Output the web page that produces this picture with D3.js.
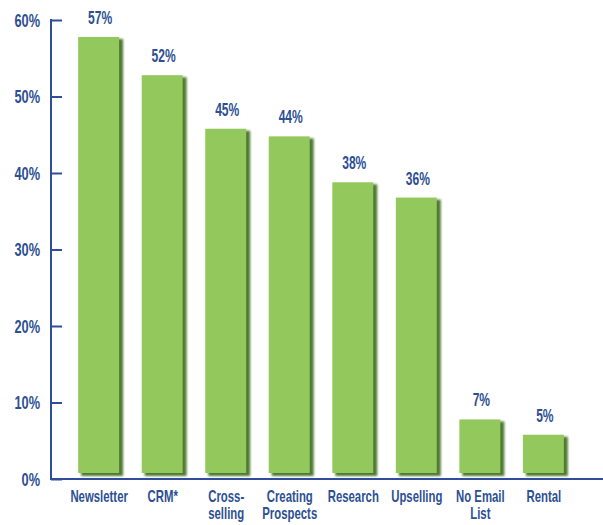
<!DOCTYPE html>
<html>
<head>
<meta charset="utf-8">
<script src="https://cdn.jsdelivr.net/npm/d3@7"></script>
<style>
  html, body { margin: 0; padding: 0; background: #fff; }
  svg { display: block; }
  .lbl { font-family: "Liberation Sans", Arial, sans-serif; font-weight: bold; fill: #2d4f93; }
</style>
</head>
<body>
<svg id="chart" width="603" height="525"></svg>
<script>
// Uses of the email list, share of respondents (%)
const categories = [["Newsletter"], ["CRM*"], ["Cross-", "selling"], ["Creating", "Prospects"], ["Research"], ["Upselling"], ["No Email", "List"], ["Rental"]];
const values = [57, 52, 45, 44, 38, 36, 7, 5];
const yTicks = [0, 10, 20, 30, 40, 50, 60];

const svg = d3.select("#chart");
const W = 603, H = 525;
const margin = { left: 51, right: 0, top: 20, bottom: 46 };
const axisBlue = "#2f4d98";
const squeeze = 0.69; // condensed look for the labels

const x = d3.scaleBand()
  .domain(d3.range(values.length))
  .range([68, 575])
  .paddingInner(0.34)
  .paddingOuter(0.16);

const y = d3.scaleLinear().domain([0, 60]).range([H - margin.bottom, margin.top]);

// soft shadow filter for bars
const defs = svg.append("defs");
defs.append("filter").attr("id", "soft").attr("x", "-20%").attr("y", "-20%").attr("width", "140%").attr("height", "140%")
  .append("feGaussianBlur").attr("stdDeviation", 0.8);
defs.append("filter").attr("id", "soft2").attr("x", "-10%").attr("y", "-10%").attr("width", "120%").attr("height", "120%")
  .append("feGaussianBlur").attr("stdDeviation", 0.45);

const lift = 6; // bars float slightly above the baseline
const bw = x.bandwidth();

const g = svg.append("g");
const bars = g.selectAll("g.bar").data(values).join("g").attr("class", "bar");

bars.append("rect")
  .attr("x", (d, i) => x(i) + 3)
  .attr("y", d => y(d) - lift + 2)
  .attr("width", bw)
  .attr("height", d => y(0) - y(d) + 1)
  .attr("fill", "#4f7a32")
  .attr("filter", "url(#soft)");

bars.append("rect")
  .attr("x", (d, i) => x(i))
  .attr("y", d => y(d) - lift)
  .attr("width", bw - 1)
  .attr("height", d => y(0) - y(d))
  .attr("fill", "#93c95c")
  .attr("filter", "url(#soft2)");

// value labels
g.selectAll("text.val").data(values).join("text")
  .attr("class", "lbl val")
  .attr("text-anchor", "middle")
  .attr("font-size", 17.5)
  .attr("transform", (d, i) => `translate(${x(i) + bw / 2 + 1},${y(d) - lift - 13}) scale(${squeeze},1)`)
  .text(d => d + "%");

// y axis
const yAxis = d3.axisLeft(y).tickValues(yTicks).tickSize(0).tickPadding(0).tickFormat(d => d + "%");
const ya = svg.append("g").attr("transform", `translate(${margin.left},0)`).call(yAxis);
ya.select(".domain").remove();
ya.selectAll(".tick text").attr("class", "lbl").attr("font-size", 18).attr("x", 0).attr("dy", "0.36em")
  .attr("text-anchor", "end")
  .attr("transform", `translate(-11,0) scale(0.71,1)`).attr("style", null);
ya.selectAll(".tick line").remove();
ya.selectAll(".tick").append("line")
  .attr("x1", 0).attr("x2", 11).attr("y1", 0).attr("y2", 0)
  .attr("stroke", axisBlue).attr("stroke-width", 2);
svg.append("line")
  .attr("x1", margin.left).attr("x2", margin.left)
  .attr("y1", y(60) - 1).attr("y2", y(0) + 1)
  .attr("stroke", axisBlue).attr("stroke-width", 2);

// x axis baseline
const xAxis = d3.axisBottom(x).tickSize(0).tickFormat("");
const xa = svg.append("g").attr("transform", `translate(0,${y(0)})`).call(xAxis);
xa.select(".domain").remove();
svg.append("line")
  .attr("x1", margin.left - 1).attr("x2", W)
  .attr("y1", y(0)).attr("y2", y(0))
  .attr("stroke", axisBlue).attr("stroke-width", 2);

// category labels, one text per line
const catLines = categories.flatMap((lines, i) => lines.map((t, j) => ({ t, i, j })));
svg.selectAll("text.cat").data(catLines).join("text")
  .attr("class", "lbl cat")
  .attr("text-anchor", "middle")
  .attr("font-size", 16.5)
  .attr("transform", d => `translate(${x(d.i) + bw / 2},${y(0) + 23 + d.j * 17}) scale(${squeeze},1)`)
  .text(d => d.t);
</script>
</body>
</html>
